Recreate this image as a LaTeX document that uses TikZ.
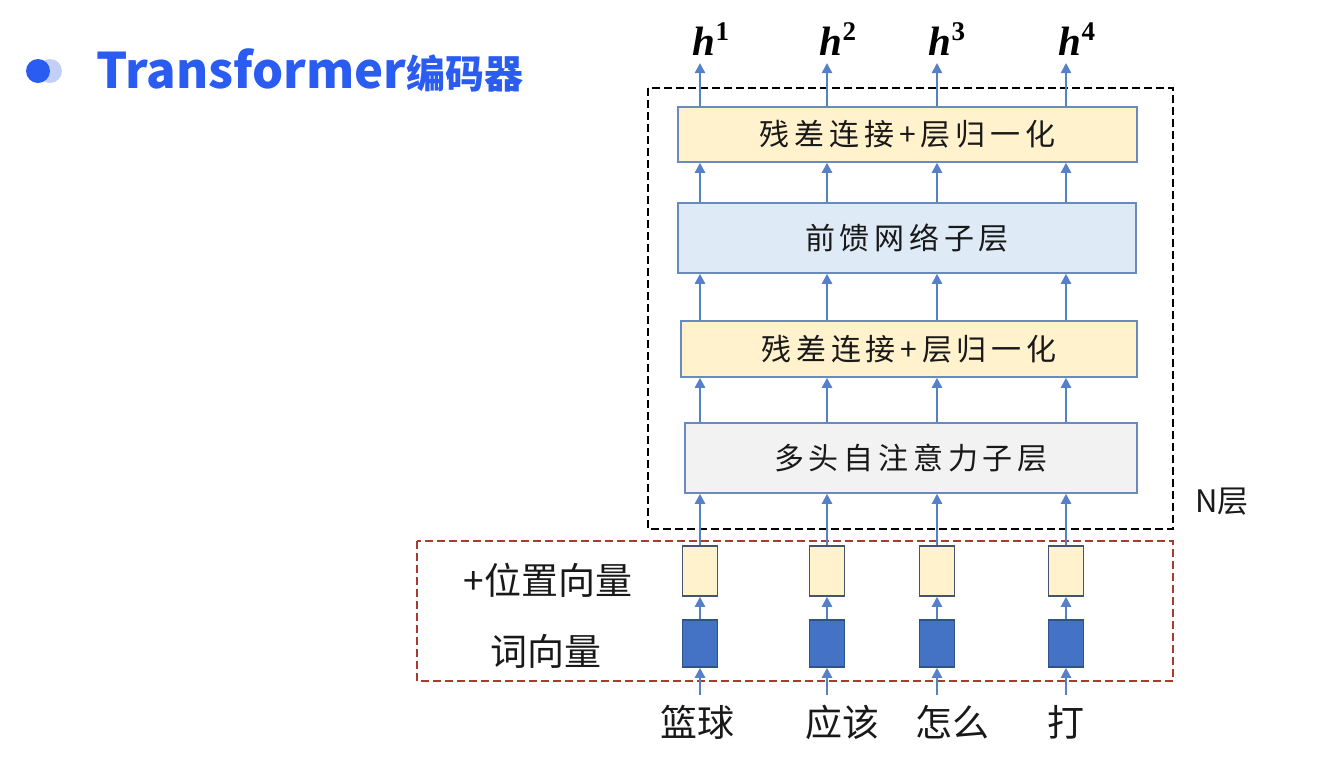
\documentclass[tikz,border=0pt]{standalone}
\usepackage{fontspec}
\usetikzlibrary{arrows.meta,positioning}
\setmainfont{Noto Sans}
\newfontfamily\cjkfont{Noto Sans CJK SC}
\newfontfamily\cjkboxfont[LetterSpace=16]{Noto Sans CJK SC}
\newfontfamily\hfont{Liberation Serif}

\definecolor{titleblue}{HTML}{2A5CF2}
\definecolor{bulletlight}{HTML}{C3CFF8}
\definecolor{arrowblue}{HTML}{5680C8}
\definecolor{edgeblue}{HTML}{6A89BD}
\definecolor{normyellow}{HTML}{FFF2CC}
\definecolor{ffnblue}{HTML}{DEEBF7}
\definecolor{attgray}{HTML}{F2F2F2}
\definecolor{embblue}{HTML}{4472C4}
\definecolor{embedge}{HTML}{2F528F}
\definecolor{posedge}{HTML}{44546A}
\definecolor{reddash}{HTML}{A93A2E}

\newcommand{\hvec}[1]{{\hfont\bfseries\itshape h}\raisebox{15pt}{\hfont\bfseries\fontsize{27}{29}\selectfont #1}}

\begin{document}
\begin{tikzpicture}[x=1pt, y=-1pt,
    arr/.style={draw=arrowblue, line width=2.2pt, -{Triangle[width=10pt,length=10pt]}},
    layerbox/.style={draw=edgeblue, line width=1.5pt, inner sep=0pt, text=black!90,
      font=\cjkboxfont\fontsize{30}{32}\selectfont},
    vecbox/.style={line width=1.5pt, minimum width=35pt, inner sep=0pt},
    sidelabel/.style={text=black!90, font=\cjkfont\fontsize{37}{40}\selectfont},
    framedash/.style={line width=2.5pt, dash pattern=on 8pt off 4pt}]
        \useasboundingbox (0,0) rectangle (1330,772);

        % title
        \fill [bulletlight] (50,71) circle (12pt);
        \fill [titleblue] (38,71) circle (12pt);
        \node [anchor=west, text=titleblue, inner sep=0pt] (title) at (96,70)
          {\cjkfont\bfseries\fontsize{49}{51}\selectfont Transformer\fontsize{39}{41}\selectfont 编码器};

        % columns
        \foreach \i/\x in {1/700, 2/827, 3/937, 4/1066}
          \coordinate (c\i) at (\x,0);

        % encoder layer
        \node [layerbox, fill=normyellow, minimum width=459pt, minimum height=55pt] (norm2) at (907.5,134.5) {残差连接+层归一化};
        \node [layerbox, fill=ffnblue, minimum width=458pt, minimum height=70pt] (ffn) at (907,238) {前馈网络子层};
        \node [layerbox, fill=normyellow, minimum width=456pt, minimum height=56pt] (norm1) at (909,349) {残差连接+层归一化};
        \node [layerbox, fill=attgray, minimum width=452pt, minimum height=70pt] (mhsa) at (911,458) {多头自注意力子层};

        \draw [framedash] (648,88) rectangle (1173,529);
        \node [text=black!90, font=\cjkfont\fontsize{31}{34}\selectfont] (nlayer) at (1222,502) {N层};

        % input part
        \draw [framedash, reddash] (417,541) rectangle (1173,681);
        \node [sidelabel] (poslabel) at (548,580) {+位置向量};
        \node [sidelabel] (emblabel) at (546,651) {词向量};

        \foreach \i/\w/\wx/\hx in {1/篮球/697/711, 2/应该/842/838, 3/怎么/952/947, 4/打/1066/1077} {
          \node [vecbox, draw=posedge, fill=normyellow, minimum height=50pt] (pos\i) at (c\i |- 0,571) {};
          \node [vecbox, draw=embedge, fill=embblue, minimum height=47pt] (emb\i) at (c\i |- 0,643.5) {};
          \node [sidelabel, inner sep=10pt] (w\i) at (\wx,722) {\w};
          \node [anchor=south, inner sep=0pt, font=\fontsize{41}{43}\selectfont] (h\i) at (\hx,56) {\hvec{\i}};
        }

        % connectors
        \foreach \i in {1,...,4} {
          \draw [arr] (w\i.north -| emb\i) -- (emb\i.south);
          \draw [arr] (emb\i.north) -- (pos\i.south);
          \draw [arr] (pos\i.north) -- (mhsa.south -| pos\i);
          \draw [arr] (mhsa.north -| c\i) -- (norm1.south -| c\i);
          \draw [arr] (norm1.north -| c\i) -- (ffn.south -| c\i);
          \draw [arr] (ffn.north -| c\i) -- (norm2.south -| c\i);
          \draw [arr] (norm2.north -| c\i) -- ([yshift=-7pt]h\i.south -| c\i);
        }
      \end{tikzpicture}
\end{document}
